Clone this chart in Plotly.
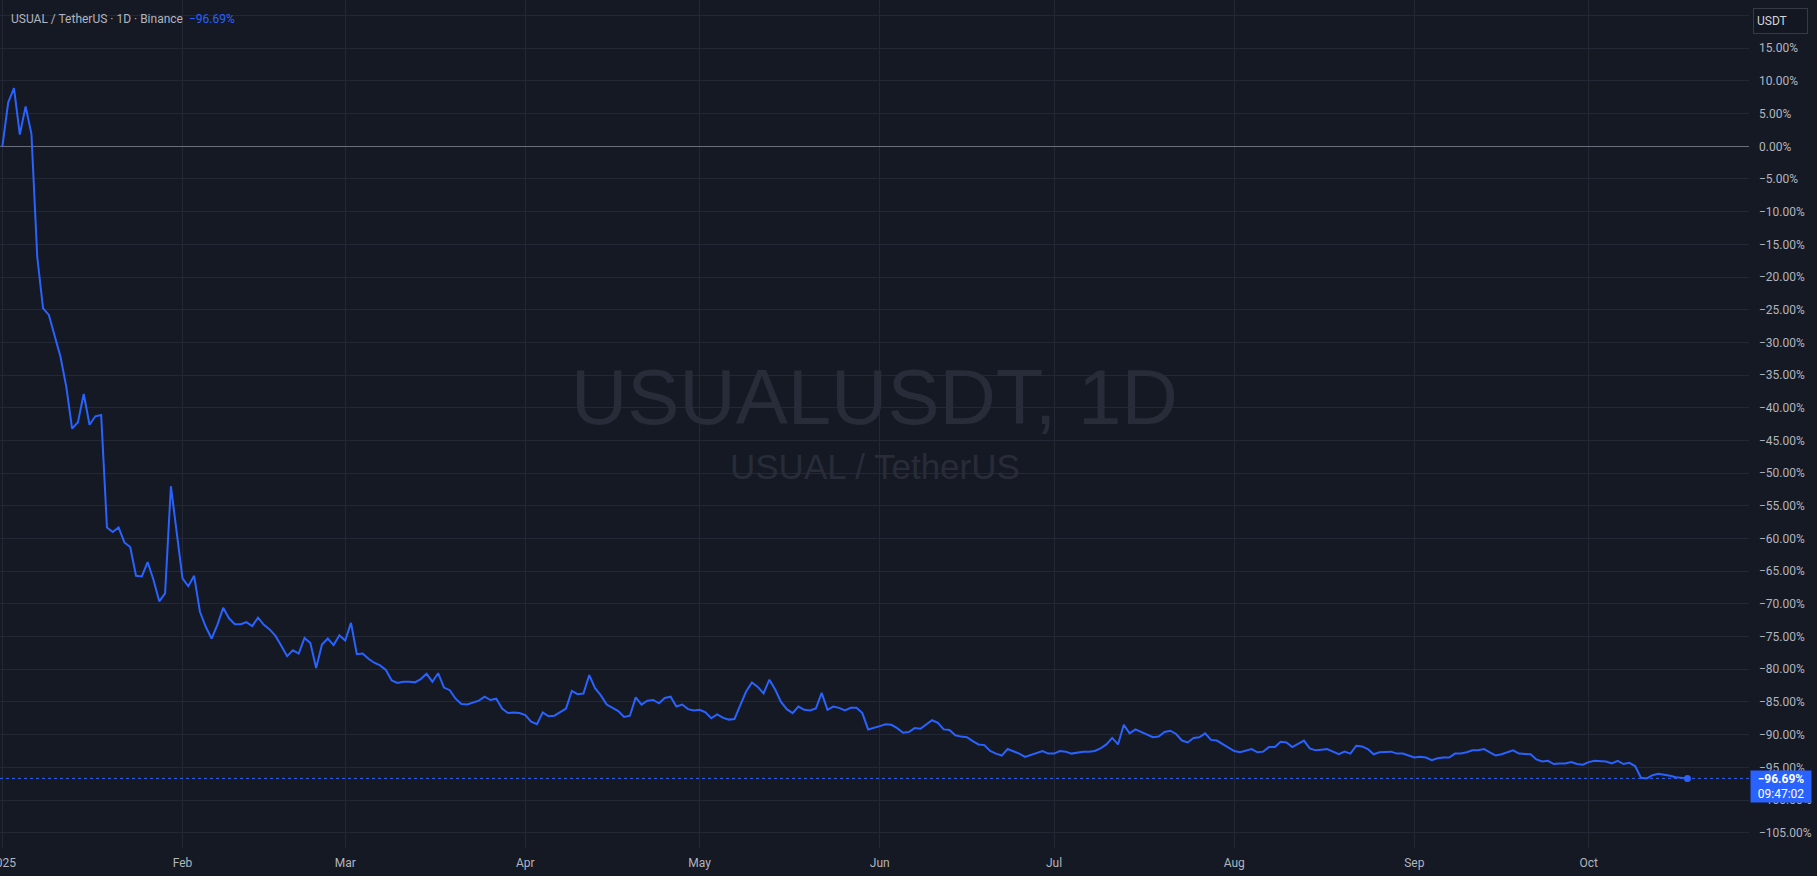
import pandas as pd
import plotly.graph_objects as go

# ---------------- data ----------------
start_date = "2025-01-01"
pct_change = [
    0.0, 6.7, 8.9, 1.8, 6.1, 1.9, -16.9, -24.8, -25.8, -29.1,
    -32.2, -36.8, -43.2, -42.2, -37.9, -42.6, -41.3, -41.1, -58.3, -59.0,
    -58.3, -60.6, -61.3, -65.7, -65.8, -63.6, -66.3, -69.6, -68.4, -52.0,
    -59.0, -66.1, -67.3, -65.7, -71.2, -73.5, -75.3, -73.2, -70.6, -72.2,
    -73.1, -73.1, -72.8, -73.4, -72.1, -73.2, -73.9, -74.9, -76.4, -78.0,
    -77.1, -77.6, -75.2, -76.0, -79.8, -76.2, -75.3, -76.3, -74.8, -75.6,
    -72.9, -77.7, -77.6, -78.4, -79.0, -79.4, -80.1, -81.7, -82.1, -81.9,
    -81.9, -82.0, -81.5, -80.7, -81.9, -80.6, -82.8, -83.2, -84.5, -85.3,
    -85.4, -85.1, -84.8, -84.2, -84.7, -84.5, -86.0, -86.7, -86.6, -86.7,
    -87.0, -88.0, -88.4, -86.6, -87.2, -87.1, -86.5, -86.0, -83.3, -83.8,
    -83.7, -80.9, -82.9, -84.0, -85.4, -85.9, -86.4, -87.3, -87.1, -84.3,
    -85.4, -84.8, -84.7, -85.2, -84.4, -84.2, -85.7, -85.4, -86.1, -86.3,
    -86.2, -86.6, -87.5, -86.9, -87.4, -87.7, -87.6, -85.5, -83.4, -82.0,
    -82.7, -83.7, -81.6, -83.1, -85.0, -86.1, -86.7, -85.7, -86.2, -86.3,
    -86.0, -83.6, -86.2, -85.7, -85.9, -86.3, -85.9, -85.9, -86.7, -89.2,
    -89.0, -88.7, -88.4, -88.5, -89.0, -89.7, -89.6, -89.0, -89.1, -88.4,
    -87.8, -88.2, -89.2, -89.3, -90.1, -90.3, -90.4, -91.0, -91.5, -91.6,
    -92.5, -92.9, -93.2, -92.2, -92.5, -92.9, -93.4, -93.1, -92.9, -92.5,
    -92.9, -92.9, -92.5, -92.6, -92.9, -92.7, -92.6, -92.6, -92.5, -92.1,
    -91.5, -90.5, -91.5, -88.5, -89.8, -89.2, -89.6, -90.1, -90.4, -90.3,
    -89.6, -89.4, -89.9, -90.9, -91.2, -90.5, -90.4, -89.8, -90.8, -90.9,
    -91.4, -92.0, -92.5, -92.7, -92.5, -92.2, -92.7, -92.6, -91.9, -91.9,
    -91.1, -91.2, -91.9, -91.4, -90.9, -92.1, -92.4, -92.3, -92.2, -92.6,
    -93.0, -92.6, -92.9, -91.7, -91.8, -92.2, -93.0, -92.7, -92.7, -92.6,
    -92.9, -92.9, -93.2, -93.5, -93.4, -93.5, -93.9, -93.6, -93.5, -93.5,
    -92.9, -92.9, -92.7, -92.4, -92.4, -92.2, -92.7, -93.2, -93.0, -92.7,
    -92.4, -92.9, -92.9, -93.0, -93.8, -94.1, -94.0, -94.5, -94.4, -94.4,
    -94.2, -94.5, -94.6, -94.2, -94.0, -94.0, -94.1, -94.4, -94.0, -94.5,
    -94.3, -94.8, -96.6, -96.7, -96.2, -96.0, -96.1, -96.3, -96.5, -96.6,
    -96.69,
]
dates = pd.date_range(start_date, periods=len(pct_change), freq="D")

x_tick_dates = ["2025-01-01", "2025-02-01", "2025-03-01", "2025-04-01", "2025-05-01",
                "2025-06-01", "2025-07-01", "2025-08-01", "2025-09-01", "2025-10-01"]
x_tick_labels = ["2025", "Feb", "Mar", "Apr", "May", "Jun", "Jul", "Aug", "Sep", "Oct"]

y_tick_vals = [20, 15, 10, 5, 0, -5, -10, -15, -20, -25, -30, -35, -40, -45, -50, -55,
               -60, -65, -70, -75, -80, -85, -90, -95, -100, -105]
y_tick_labels = ["" if v == 20 else f"{v:.2f}%".replace("-", "\u2212") for v in y_tick_vals]

title_text = "USUAL / TetherUS · 1D · Binance"
watermark_main = "USUALUSDT, 1D"
watermark_sub = "USUAL / TetherUS"
last_time = "09:47:02"
currency = "USDT"

# ---------------- style ----------------
BG = "#151924"
GRID = "#242834"
BLUE = "#2962FF"
TXT = "#B2B5BE"
FONT = "Roboto, 'Liberation Sans', sans-serif"

W, H = 1817, 876
M_L, M_R, M_T, M_B = 0, 68, 0, 28
plot_h = H - M_T - M_B

def fmt_pct(v):
    return f"{v:.2f}%".replace("-", "\u2212")

fig = go.Figure()
fig.add_trace(go.Scatter(
    x=dates, y=pct_change, mode="lines",
    line=dict(color=BLUE, width=2), hoverinfo="skip", showlegend=False,
))
fig.add_trace(go.Scatter(
    x=[dates[-1]], y=[pct_change[-1]], mode="markers",
    marker=dict(color=BLUE, size=7), hoverinfo="skip", showlegend=False,
))

# last value dotted line
fig.add_hline(y=pct_change[-1], line=dict(color=BLUE, width=1, dash="dot"))

fig.update_layout(
    width=W, height=H,
    margin=dict(l=M_L, r=M_R, t=M_T, b=M_B, pad=0, autoexpand=False),
    paper_bgcolor=BG, plot_bgcolor=BG,
    font=dict(family=FONT, color=TXT, size=12),
    xaxis=dict(
        type="date", automargin=False,
        range=["2024-12-31 14:10", "2025-10-28 14:20"],
        tickvals=x_tick_dates, ticktext=x_tick_labels,
        showgrid=True, gridcolor=GRID, gridwidth=1,
        zeroline=False, showline=False, ticks="",
        ticklabelstandoff=6, ticklabeloverflow="allow",
        tickfont=dict(size=12, color=TXT, family=FONT),
    ),
    yaxis=dict(
        side="right", automargin=False,
        range=[-107.34, 22.38],
        tickvals=y_tick_vals, ticktext=y_tick_labels,
        showgrid=True, gridcolor=GRID, gridwidth=1,
        zeroline=True, zerolinecolor="#6B6E7A", zerolinewidth=1,
        showline=False, ticks="",
        ticklabelstandoff=9,
        tickfont=dict(size=12, color=TXT, family=FONT),
    ),
)

def py(pix):
    """pixel y (from top of figure) -> paper y"""
    return 1 - (pix - M_T) / plot_h

annotations = [
    # header
    dict(xref="paper", yref="paper", x=0, y=py(19), xanchor="left", yanchor="middle",
         xshift=9, showarrow=False,
         text=f"{title_text}  <span style='color:{BLUE}'>{fmt_pct(pct_change[-1])}</span>",
         font=dict(size=12, color=TXT, family=FONT)),
    # watermarks
    dict(xref="paper", yref="paper", x=0.5, y=py(397), xanchor="center", yanchor="middle",
         showarrow=False, text=watermark_main,
         font=dict(size=78, color="#282C38", family="'Liberation Sans', Arial, sans-serif")),
    dict(xref="paper", yref="paper", x=0.5, y=py(466), xanchor="center", yanchor="middle",
         showarrow=False, text=watermark_sub,
         font=dict(size=35, color="#282C38", family="'Liberation Sans', Arial, sans-serif")),
    # currency box
    dict(xref="paper", yref="paper", x=1, y=py(8), xanchor="left", yanchor="top",
         xshift=4, showarrow=False, text=currency, align="left",
         width=47, height=18, borderpad=3, bordercolor="#363A45", borderwidth=1,
         bgcolor="#131722", font=dict(size=12, color="#D1D4DC", family=FONT)),
    # last value label
    dict(xref="paper", yref="y", x=1, y=pct_change[-1], xanchor="left", yanchor="top",
         xshift=1, yshift=8.5, showarrow=False,
         text=f"<b>{fmt_pct(pct_change[-1])}</b><br>{last_time}", align="center",
         width=60, height=31, borderpad=0, bgcolor=BLUE,
         font=dict(size=12, color="#FFFFFF", family=FONT)),
]
fig.update_layout(annotations=annotations)

fig.write_html(
    "out.html",
    config={"displayModeBar": False},
    post_script="document.body.style.margin='0';document.body.style.overflow='hidden';",
)
